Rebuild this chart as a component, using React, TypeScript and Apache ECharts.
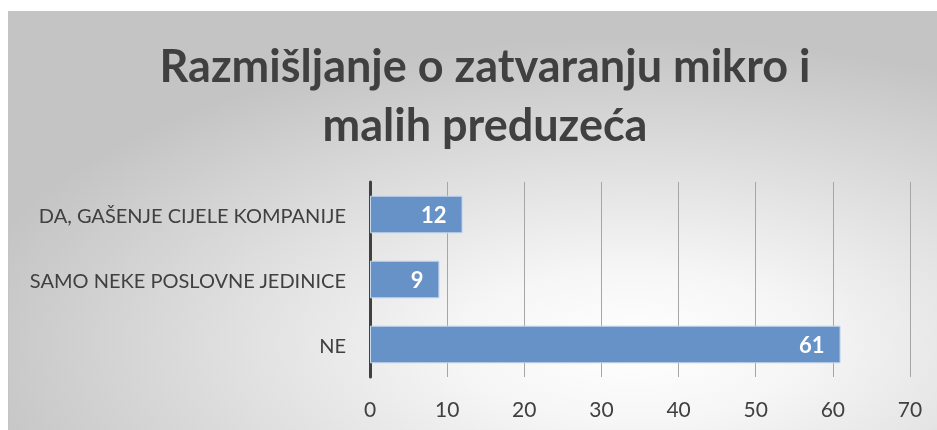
import React, { useEffect, useRef } from "react";
import * as echarts from "echarts";

const categories = ["NE", "SAMO NEKE POSLOVNE JEDINICE", "DA, GAŠENJE CIJELE KOMPANIJE"];
const values = [61, 9, 12];
const titleText = "Razmišljanje o zatvaranju mikro i\nmalih preduzeća";

export default function App() {
  const ref = useRef<HTMLDivElement>(null);
  useEffect(() => {
    if (!ref.current) return;
    const chart = echarts.init(ref.current, null, { renderer: "svg" });
    chart.setOption({
      animation: false,
      backgroundColor: new echarts.graphic.RadialGradient(0.66, 0.78, 0.72, [
        { offset: 0, color: "#ffffff" },
        { offset: 0.25, color: "#f6f6f6" },
        { offset: 1, color: "#c4c4c4" },
      ]),
      title: {
        text: titleText,
        left: 471,
        top: 18,
        textAlign: "center",
        textStyle: {
          fontFamily: "Lato",
          fontWeight: "bold",
          fontSize: 45,
          lineHeight: 59,
          color: "#404040",
        },
      },
      grid: { left: 361, right: 42, top: 170, bottom: 63, containLabel: false },
      xAxis: {
        type: "value",
        min: 0,
        max: 70,
        interval: 10,
        axisLine: { show: false },
        axisTick: { show: false },
        splitLine: { show: true, lineStyle: { color: "#a6a6a6", width: 1 } },
        axisLabel: { color: "#404040", fontFamily: "Lato", fontSize: 21, margin: 21 },
      },
      yAxis: {
        type: "category",
        data: categories,
        axisLine: { show: true, lineStyle: { color: "#404040", width: 3 } },
        axisTick: { show: false },
        axisLabel: { color: "#404040", fontFamily: "Lato", fontSize: 20, margin: 24 },
      },
      series: [
        {
          type: "bar",
          data: values,
          barCategoryGap: "42%",
          itemStyle: { color: "#6792c8", borderColor: "#c9d8ec", borderWidth: 1 },
          label: {
            show: true,
            position: "insideRight",
            distance: 16,
            color: "#ffffff",
            fontFamily: "Lato",
            fontWeight: "bold",
            fontSize: 22,
          },
        },
      ],
    });
    return () => chart.dispose();
  }, []);
  return (
    <div
      ref={ref}
      style={{
        position: "fixed",
        left: 8,
        top: 11,
        width: 945,
        height: 430,
        boxSizing: "border-box",
        border: "1px solid #c4c4c4",
      }}
    />
  );
}
